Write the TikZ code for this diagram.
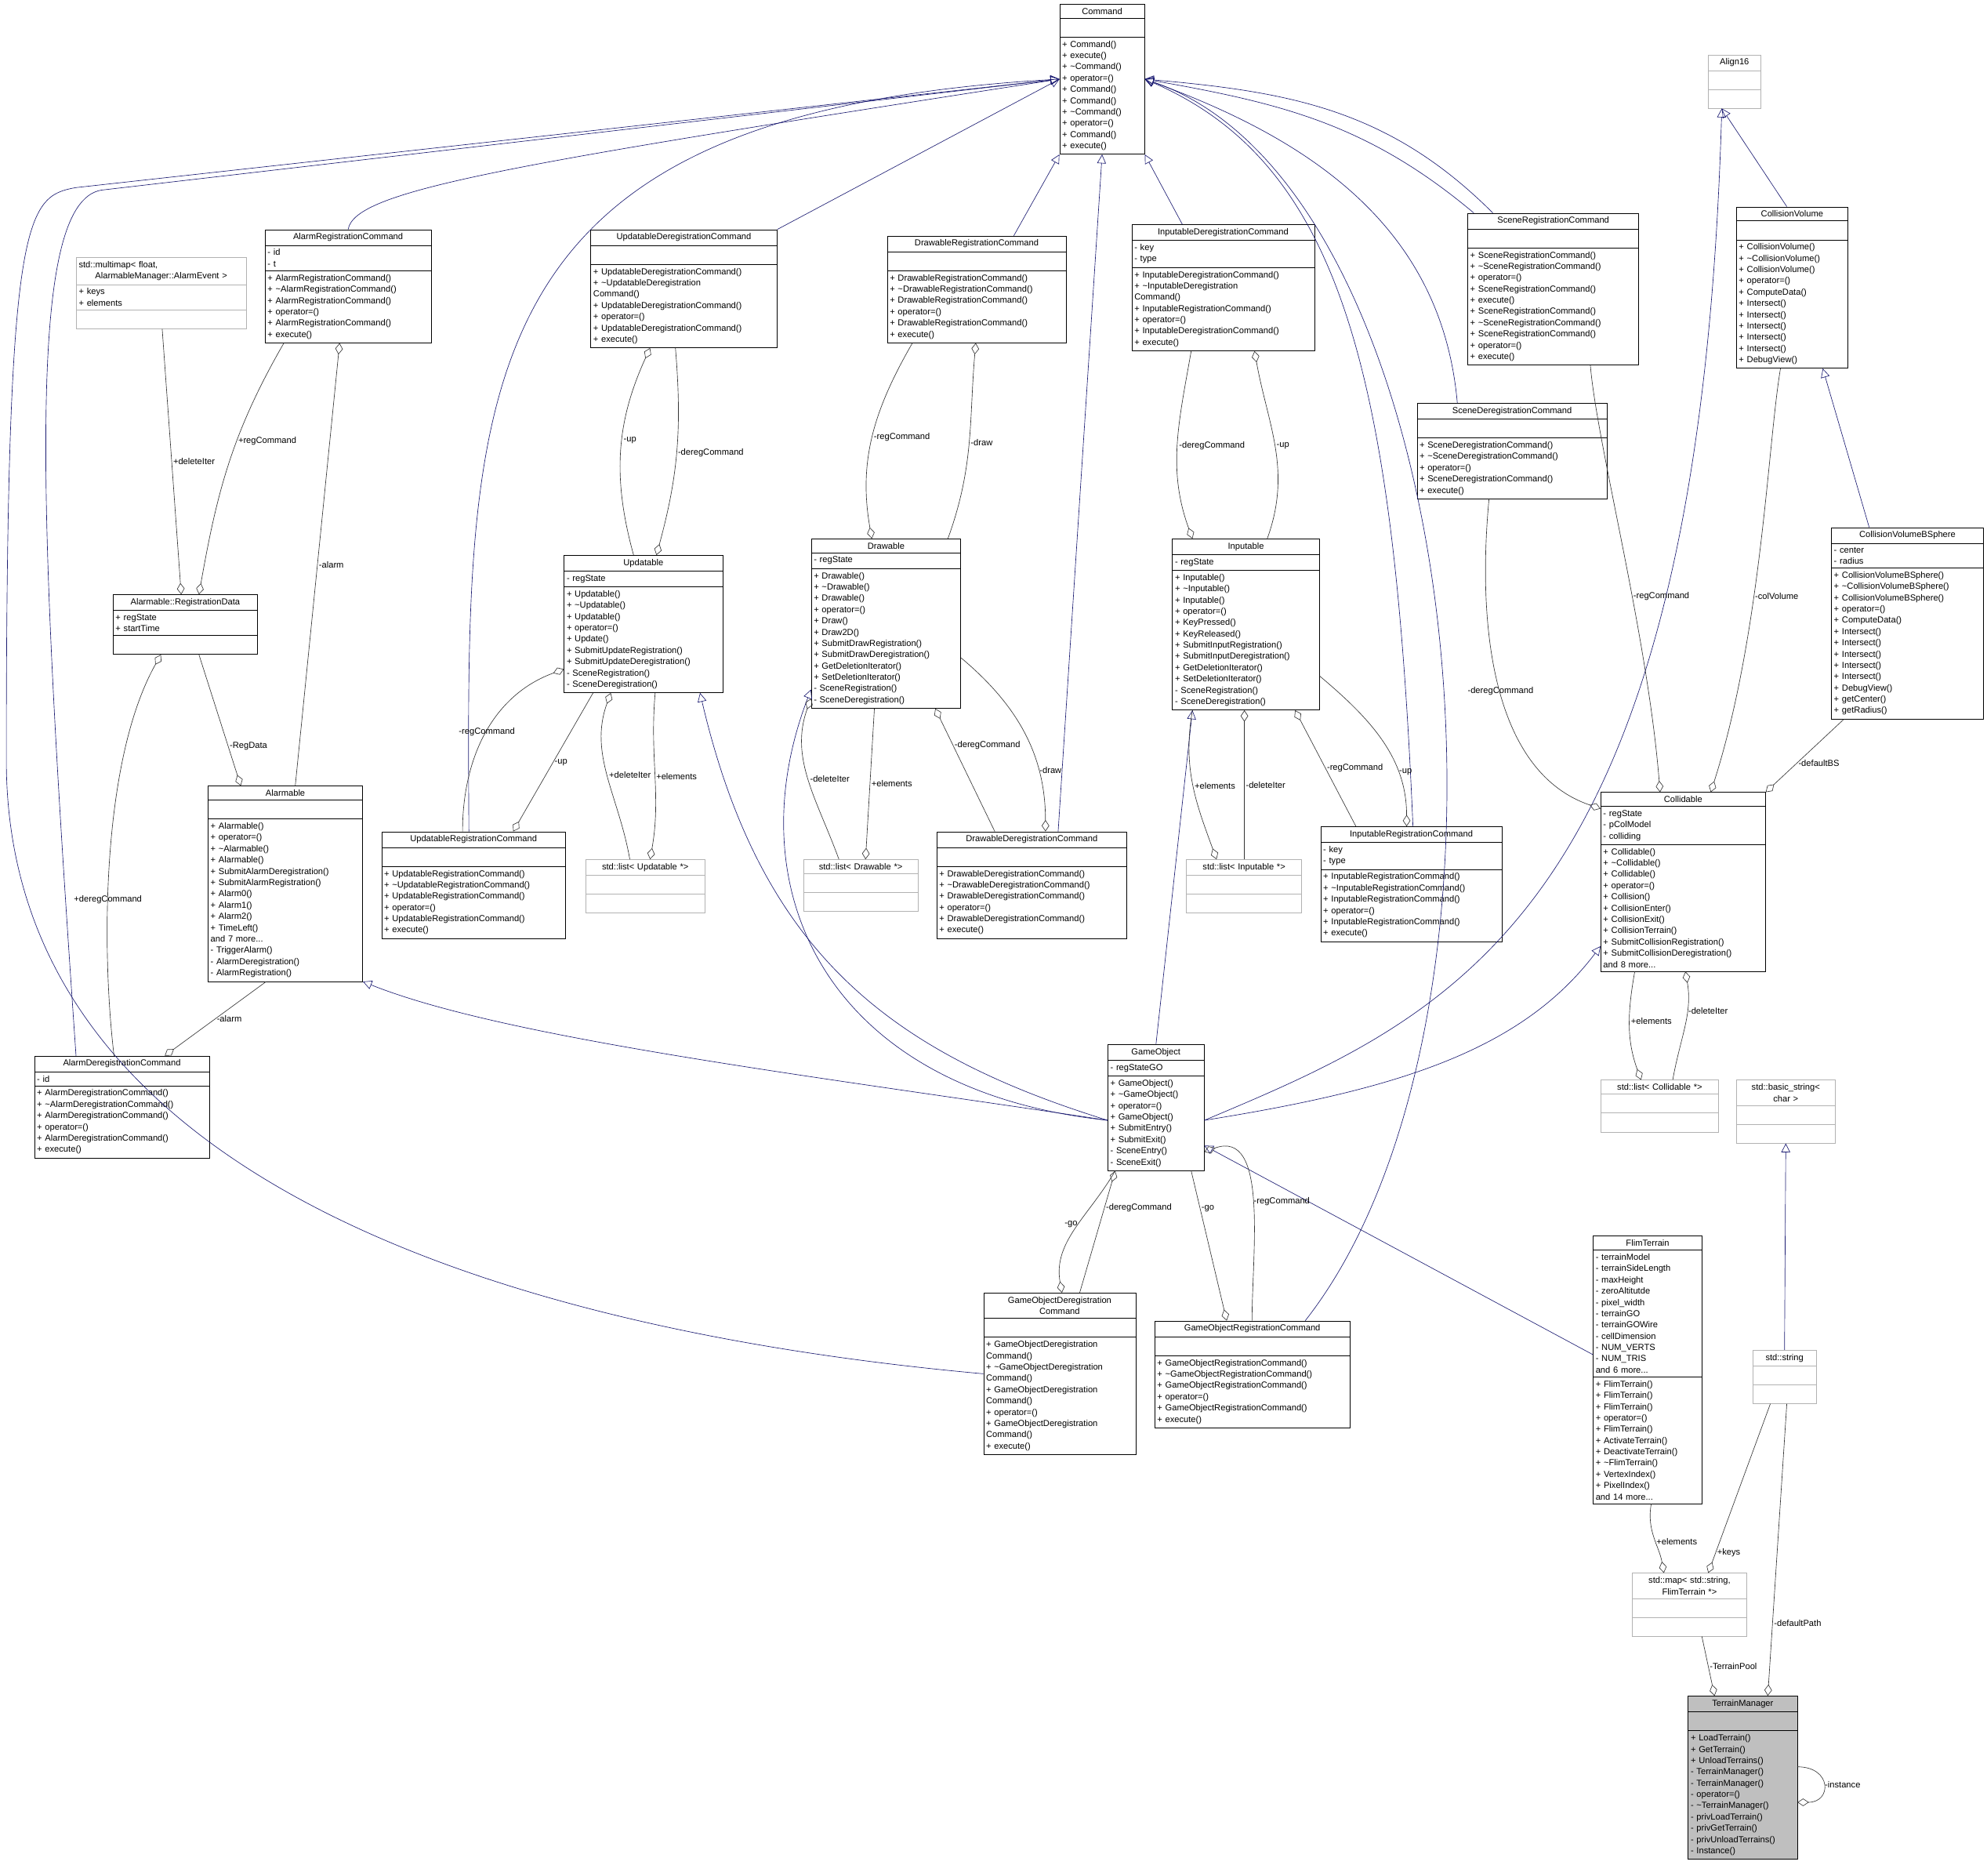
\documentclass[tikz,border=0pt]{standalone}
\usepackage{fontspec}
\setmainfont{Liberation Sans}
\usepackage{tikz}
\usetikzlibrary{arrows.meta,positioning,shapes.multipart}

\newcommand\cfont{\fontsize{6.9}{8.9}\selectfont}
\newcommand\ttl[1]{\hfil #1\hfil}
\definecolor{inhblue}{HTML}{191970}
\tikzset{
  cls/.style={rectangle split, rectangle split parts=3, draw, fill=white, anchor=north west, align=left, inner xsep=2pt, inner ysep=2.8pt, font=\cfont},
  ext/.style={cls, draw=black!30},
  inh/.style={draw=inhblue, -{Triangle[open,length=7pt,width=7pt]}},
  agg/.style={draw=black!80, {Diamond[open,length=9pt,width=6pt]}-},
  lbl/.style={font=\cfont, inner sep=1pt}
}

\begin{document}
\begin{tikzpicture}[x=1pt,y=-1pt]
\useasboundingbox (0,0) rectangle (1568,1480);

\node (cmd) [cls, text width=63pt] at (836,3) {\ttl{Command} \nodepart{two}\strut \nodepart{three}+ Command()\\+ execute()\\+ \textasciitilde Command()\\+ operator=()\\+ Command()\\+ Command()\\+ \textasciitilde Command()\\+ operator=()\\+ Command()\\+ execute()};
\node (aln) [ext, text width=37pt] at (1348,43) {\ttl{Align16} \nodepart{two}\strut \nodepart{three}\strut};
\node (cv) [cls, text width=84pt] at (1370,163) {\ttl{CollisionVolume} \nodepart{two}\strut \nodepart{three}+ CollisionVolume()\\+ \textasciitilde CollisionVolume()\\+ CollisionVolume()\\+ operator=()\\+ ComputeData()\\+ Intersect()\\+ Intersect()\\+ Intersect()\\+ Intersect()\\+ Intersect()\\+ DebugView()};
\node (cvbs) [cls, text width=116pt] at (1445,416) {\ttl{CollisionVolumeBSphere} \nodepart{two}- center\\- radius \nodepart{three}+ CollisionVolumeBSphere()\\+ \textasciitilde CollisionVolumeBSphere()\\+ CollisionVolumeBSphere()\\+ operator=()\\+ ComputeData()\\+ Intersect()\\+ Intersect()\\+ Intersect()\\+ Intersect()\\+ Intersect()\\+ DebugView()\\+ getCenter()\\+ getRadius()};
\node (src) [cls, text width=131pt] at (1158,168) {\ttl{SceneRegistrationCommand} \nodepart{two}\strut \nodepart{three}+ SceneRegistrationCommand()\\+ \textasciitilde SceneRegistrationCommand()\\+ operator=()\\+ SceneRegistrationCommand()\\+ execute()\\+ SceneRegistrationCommand()\\+ \textasciitilde SceneRegistrationCommand()\\+ SceneRegistrationCommand()\\+ operator=()\\+ execute()};
\node (sdc) [cls, text width=146pt] at (1118,318) {\ttl{SceneDeregistrationCommand} \nodepart{two}\strut \nodepart{three}+ SceneDeregistrationCommand()\\+ \textasciitilde SceneDeregistrationCommand()\\+ operator=()\\+ SceneDeregistrationCommand()\\+ execute()};
\node (idc) [cls, text width=140pt] at (893,177) {\ttl{InputableDeregistrationCommand} \nodepart{two}- key\\- type \nodepart{three}+ InputableDeregistrationCommand()\\+ \textasciitilde InputableDeregistration\\Command()\\+ InputableRegistrationCommand()\\+ operator=()\\+ InputableDeregistrationCommand()\\+ execute()};
\node (drc) [cls, text width=137pt] at (700,186) {\ttl{DrawableRegistrationCommand} \nodepart{two}\strut \nodepart{three}+ DrawableRegistrationCommand()\\+ \textasciitilde DrawableRegistrationCommand()\\+ DrawableRegistrationCommand()\\+ operator=()\\+ DrawableRegistrationCommand()\\+ execute()};
\node (udc) [cls, text width=143pt] at (466,181) {\ttl{UpdatableDeregistrationCommand} \nodepart{two}\strut \nodepart{three}+ UpdatableDeregistrationCommand()\\+ \textasciitilde UpdatableDeregistration\\Command()\\+ UpdatableDeregistrationCommand()\\+ operator=()\\+ UpdatableDeregistrationCommand()\\+ execute()};
\node (arc) [cls, text width=127pt] at (209,181) {\ttl{AlarmRegistrationCommand} \nodepart{two}- id\\- t \nodepart{three}+ AlarmRegistrationCommand()\\+ \textasciitilde AlarmRegistrationCommand()\\+ AlarmRegistrationCommand()\\+ operator=()\\+ AlarmRegistrationCommand()\\+ execute()};
\node (mm) [ext, text width=130pt] at (60,203) {std::multimap< float,\\ \ttl{AlarmableManager::AlarmEvent >} \nodepart{two}+ keys\\+ elements \nodepart{three}\strut};
\node (rd) [cls, text width=110pt] at (89,469) {\ttl{Alarmable::RegistrationData} \nodepart{two}+ regState\\+ startTime \nodepart{three}\strut};
\node (upd) [cls, text width=121pt] at (445,438) {\ttl{Updatable} \nodepart{two}- regState \nodepart{three}+ Updatable()\\+ \textasciitilde Updatable()\\+ Updatable()\\+ operator=()\\+ Update()\\+ SubmitUpdateRegistration()\\+ SubmitUpdateDeregistration()\\- SceneRegistration()\\- SceneDeregistration()};
\node (drw) [cls, text width=114pt] at (640,425) {\ttl{Drawable} \nodepart{two}- regState \nodepart{three}+ Drawable()\\+ \textasciitilde Drawable()\\+ Drawable()\\+ operator=()\\+ Draw()\\+ Draw2D()\\+ SubmitDrawRegistration()\\+ SubmitDrawDeregistration()\\+ GetDeletionIterator()\\+ SetDeletionIterator()\\- SceneRegistration()\\- SceneDeregistration()};
\node (inp) [cls, text width=112pt] at (925,425) {\ttl{Inputable} \nodepart{two}- regState \nodepart{three}+ Inputable()\\+ \textasciitilde Inputable()\\+ Inputable()\\+ operator=()\\+ KeyPressed()\\+ KeyReleased()\\+ SubmitInputRegistration()\\+ SubmitInputDeregistration()\\+ GetDeletionIterator()\\+ SetDeletionIterator()\\- SceneRegistration()\\- SceneDeregistration()};
\node (alm) [cls, text width=118pt] at (164,620) {\ttl{Alarmable} \nodepart{two}\strut \nodepart{three}+ Alarmable()\\+ operator=()\\+ \textasciitilde Alarmable()\\+ Alarmable()\\+ SubmitAlarmDeregistration()\\+ SubmitAlarmRegistration()\\+ Alarm0()\\+ Alarm1()\\+ Alarm2()\\+ TimeLeft()\\and 7 more...\\- TriggerAlarm()\\- AlarmDeregistration()\\- AlarmRegistration()};
\node (urc) [cls, text width=141pt] at (301,656) {\ttl{UpdatableRegistrationCommand} \nodepart{two}\strut \nodepart{three}+ UpdatableRegistrationCommand()\\+ \textasciitilde UpdatableRegistrationCommand()\\+ UpdatableRegistrationCommand()\\+ operator=()\\+ UpdatableRegistrationCommand()\\+ execute()};
\node (lupd) [ext, text width=90pt] at (462,678) {\ttl{std::list< Updatable *>} \nodepart{two}\strut \nodepart{three}\strut};
\node (ldrw) [ext, text width=86pt] at (634,678) {\ttl{std::list< Drawable *>} \nodepart{two}\strut \nodepart{three}\strut};
\node (ddc) [cls, text width=146pt] at (739,656) {\ttl{DrawableDeregistrationCommand} \nodepart{two}\strut \nodepart{three}+ DrawableDeregistrationCommand()\\+ \textasciitilde DrawableDeregistrationCommand()\\+ DrawableDeregistrationCommand()\\+ operator=()\\+ DrawableDeregistrationCommand()\\+ execute()};
\node (linp) [ext, text width=87pt] at (936,678) {\ttl{std::list< Inputable *>} \nodepart{two}\strut \nodepart{three}\strut};
\node (irc) [cls, text width=139pt] at (1042,652) {\ttl{InputableRegistrationCommand} \nodepart{two}- key\\- type \nodepart{three}+ InputableRegistrationCommand()\\+ \textasciitilde InputableRegistrationCommand()\\+ InputableRegistrationCommand()\\+ operator=()\\+ InputableRegistrationCommand()\\+ execute()};
\node (col) [cls, text width=126pt] at (1263,625) {\ttl{Collidable} \nodepart{two}- regState\\- pColModel\\- colliding \nodepart{three}+ Collidable()\\+ \textasciitilde Collidable()\\+ Collidable()\\+ operator=()\\+ Collision()\\+ CollisionEnter()\\+ CollisionExit()\\+ CollisionTerrain()\\+ SubmitCollisionRegistration()\\+ SubmitCollisionDeregistration()\\and 8 more...};
\node (adc) [cls, text width=134pt] at (27,833) {\ttl{AlarmDeregistrationCommand} \nodepart{two}- id \nodepart{three}+ AlarmDeregistrationCommand()\\+ \textasciitilde AlarmDeregistrationCommand()\\+ AlarmDeregistrationCommand()\\+ operator=()\\+ AlarmDeregistrationCommand()\\+ execute()};
\node (go) [cls, text width=72pt] at (874,824) {\ttl{GameObject} \nodepart{two}- regStateGO \nodepart{three}+ GameObject()\\+ \textasciitilde GameObject()\\+ operator=()\\+ GameObject()\\+ SubmitEntry()\\+ SubmitExit()\\- SceneEntry()\\- SceneExit()};
\node (lcol) [ext, text width=89pt] at (1263,852) {\ttl{std::list< Collidable *>} \nodepart{two}\strut \nodepart{three}\strut};
\node (bstr) [ext, text width=74pt] at (1370,852) {\ttl{std::basic\_string<}\\ \ttl{char >} \nodepart{two}\strut \nodepart{three}\strut};
\node (godc) [cls, text width=116pt] at (776,1020) {\ttl{GameObjectDeregistration}\\ \ttl{Command} \nodepart{two}\strut \nodepart{three}+ GameObjectDeregistration\\Command()\\+ \textasciitilde GameObjectDeregistration\\Command()\\+ GameObjectDeregistration\\Command()\\+ operator=()\\+ GameObjectDeregistration\\Command()\\+ execute()};
\node (gorc) [cls, text width=150pt] at (911,1042) {\ttl{GameObjectRegistrationCommand} \nodepart{two}\strut \nodepart{three}+ GameObjectRegistrationCommand()\\+ \textasciitilde GameObjectRegistrationCommand()\\+ GameObjectRegistrationCommand()\\+ operator=()\\+ GameObjectRegistrationCommand()\\+ execute()};
\node (flim) [cls, text width=82pt] at (1257,975) {\ttl{FlimTerrain} \nodepart{two}- terrainModel\\- terrainSideLength\\- maxHeight\\- zeroAltitutde\\- pixel\_width\\- terrainGO\\- terrainGOWire\\- cellDimension\\- NUM\_VERTS\\- NUM\_TRIS\\and 6 more... \nodepart{three}+ FlimTerrain()\\+ FlimTerrain()\\+ FlimTerrain()\\+ operator=()\\+ FlimTerrain()\\+ ActivateTerrain()\\+ DeactivateTerrain()\\+ \textasciitilde FlimTerrain()\\+ VertexIndex()\\+ PixelIndex()\\and 14 more...};
\node (str) [ext, text width=46pt] at (1383,1065) {\ttl{std::string} \nodepart{two}\strut \nodepart{three}\strut};
\node (map) [ext, text width=86pt] at (1288,1241) {\ttl{std::map< std::string,}\\ \ttl{FlimTerrain *>} \nodepart{two}\strut \nodepart{three}\strut};
\node (tm) [cls, fill=black!25, text width=82pt] at (1332,1338) {\ttl{TerrainManager} \nodepart{two}\strut \nodepart{three}+ LoadTerrain()\\+ GetTerrain()\\+ UnloadTerrains()\\- TerrainManager()\\- TerrainManager()\\- operator=()\\- \textasciitilde TerrainManager()\\- privLoadTerrain()\\- privGetTerrain()\\- privUnloadTerrains()\\- Instance()};

% inheritance
\draw [inh] (arc.north) .. controls (280,150) and (400,130) .. (cmd.west);
\draw [inh] (udc.north east) -- (cmd.west);
\draw [inh] ([xshift=100]drc.north west) -- (cmd.south west);
\draw [inh] ([xshift=40]idc.north west) -- (cmd.south east);
\draw [inh] ([xshift=20]src.north west) to[out=135,in=-5] (cmd.east);
\draw [inh] ([xshift=5]src.north west) to[out=140,in=-10] (cmd.east);
\draw [inh] ([xshift=32]sdc.north west) to[out=95,in=-20] (cmd.east);
\draw [inh] ([xshift=69]urc.north west) .. controls (368,300) and (365,90) .. (cmd.west);
\draw [inh] ([xshift=96]ddc.north west) -- (cmd.south);
\draw [inh] ([xshift=73]irc.north west) .. controls (1100,300) and (1060,130) .. (cmd.east);
\draw [inh] ([xshift=119]gorc.north west) .. controls (1220,800) and (1160,150) .. (cmd.east);
\draw [inh] ([xshift=33]adc.north west) .. controls (30,400) and (20,160) .. (80,150) -- (cmd.west);
\draw [inh] (godc.west) .. controls (400,1050) and (5,930) .. (5,600) .. controls (5,170) and (20,155) .. (60,148) -- (cmd.west);
\draw [inh] ([xshift=40]cv.north west) -- ([xshift=-10]aln.south);
\draw [inh] ([yshift=-10]go.east) .. controls (1150,800) and (1340,720) .. ([xshift=-10]aln.south);
\draw [inh] ([xshift=30]cvbs.north west) -- ([xshift=-20]cv.south east);
\draw [inh] ([yshift=-10]go.west) .. controls (700,830) and (600,750) .. ([xshift=-18]upd.south east);
\draw [inh] ([yshift=-10]go.west) .. controls (650,860) and (580,700) .. ([yshift=15]drw.south west);
\draw [inh] (go.north) -- ([xshift=16]inp.south west);
\draw [inh] ([yshift=-10]go.west) .. controls (650,850) and (400,820) .. (alm.south east);
\draw [inh] ([yshift=-10]go.east) .. controls (1100,860) and (1200,830) .. ([yshift=20]col.south west);
\draw [inh] ([yshift=12]flim.west) -- ([yshift=-30]go.east);
\draw [inh] (str.north) -- (bstr.south);

% aggregation
\draw [agg] ([xshift=54]rd.north west) -- node[lbl, right] {+deleteIter} ([xshift=68]mm.south west);
\draw [agg] ([xshift=68]rd.north west) to[out=80,in=-120] node[lbl, right, pos=0.6] {+regCommand} ([xshift=15]arc.south west);
\draw [agg] ([xshift=26]alm.north west) -- node[lbl, right, pos=0.3] {-RegData} ([xshift=68]rd.south west);
\draw [agg] ([xshift=59]arc.south west) -- node[lbl, right] {-alarm} ([xshift=69]alm.north west);
\draw [agg] ([xshift=38]rd.south west) .. controls (80,600) and (80,750) .. node[lbl, pos=0.6] {+deregCommand} ([xshift=63]adc.north west);
\draw [agg] ([xshift=103]adc.north west) -- node[lbl, right] {-alarm} ([xshift=46]alm.south west);

\draw [agg] ([xshift=47]udc.south west) to[bend right=20] node[lbl, right, pos=0.45] {-up} ([xshift=55]upd.north west);
\draw [agg] ([xshift=73]upd.north west) to[bend right=10] node[lbl, right, pos=0.5] {-deregCommand} ([xshift=67]udc.south west);
\draw [agg] ([yshift=-90]upd.north west) to[out=200,in=90] node[lbl, pos=0.5] {-regCommand} ([xshift=64]urc.north west);
\draw [agg] ([xshift=104]urc.north west) -- node[lbl, right, pos=0.5] {-up} ([xshift=23]upd.south west);
\draw [agg] ([xshift=37]upd.south west) to[out=250,in=100] node[lbl, right, pos=0.5] {+deleteIter} ([xshift=35]lupd.north west);
\draw [agg] ([xshift=51]lupd.north west) to[out=80,in=-95] node[lbl, right, pos=0.5] {+elements} ([xshift=72]upd.south west);

\draw [agg] ([xshift=48]drw.north west) to[out=100,in=-120] node[lbl, right, pos=0.5] {-regCommand} ([xshift=20]drc.south west);
\draw [agg] ([xshift=70]drc.south west) to[out=-95,in=70] node[lbl, right, pos=0.5] {-draw} ([xshift=108]drw.north west);
\draw [agg] ([yshift=8]drw.south west) to[out=250,in=110] node[lbl, right, pos=0.5] {-deleteIter} ([xshift=28]ldrw.north west);
\draw [agg] ([xshift=49]ldrw.north west) -- node[lbl, right, pos=0.5] {+elements} ([xshift=50]drw.south west);
\draw [agg] ([xshift=98]drw.south west) -- node[lbl, right, pos=0.3] {-deregCommand} ([xshift=46]ddc.north west);
\draw [agg] ([xshift=86]ddc.north west) to[out=90,in=-40] node[lbl, right, pos=0.3] {-draw} ([yshift=40]drw.south east);

\draw [agg] ([xshift=16]inp.north west) to[out=110,in=-100] node[lbl, right, pos=0.5] {-deregCommand} ([xshift=47]idc.south west);
\draw [agg] ([xshift=97]idc.south west) to[out=-80,in=70] node[lbl, right, pos=0.5] {-up} ([xshift=75]inp.north west);
\draw [agg] ([xshift=24]linp.north west) to[out=110,in=-100] node[lbl, right, pos=0.5] {+elements} ([xshift=16]inp.south west);
\draw [agg] ([xshift=57]inp.south west) -- node[lbl, right, pos=0.5] {-deleteIter} ([xshift=46]linp.north west);
\draw [agg] ([xshift=97]inp.south west) -- node[lbl, right, pos=0.5] {-regCommand} ([xshift=28]irc.north west);
\draw [agg] ([xshift=68]irc.north west) to[out=90,in=-40] node[lbl, right, pos=0.3] {-up} ([yshift=27]inp.south east);

\draw [agg] ([yshift=-13]col.north west) .. controls (1180,610) and (1165,500) .. node[lbl, pos=0.5] {-deregCommand} ([xshift=57]sdc.south west);
\draw [agg] ([xshift=47]col.north west) .. controls (1300,500) and (1260,350) .. node[lbl, right, pos=0.4] {-regCommand} ([xshift=97]src.south west);
\draw [agg] ([xshift=87]col.north west) .. controls (1390,500) and (1395,350) .. node[lbl, right, pos=0.4] {-colVolume} ([xshift=35]cv.south west);
\draw [agg] (col.north east) -- node[lbl, right, pos=0.4] {-defaultBS} ([xshift=10]cvbs.south west);
\draw [agg] ([xshift=32]lcol.north west) to[out=110,in=-100] node[lbl, right, pos=0.55] {+elements} ([xshift=27]col.south west);
\draw [agg] ([xshift=67]col.south west) to[out=-80,in=80] node[lbl, right, pos=0.35] {-deleteIter} ([xshift=57]lcol.north west);

\draw [agg] ([xshift=62]godc.north west) to[out=100,in=-120] node[lbl, left, pos=0.55] {-go} ([xshift=6]go.south west);
\draw [agg] ([xshift=6]go.south west) -- node[lbl, right, pos=0.3] {-deregCommand} ([xshift=76]godc.north west);
\draw [agg] ([xshift=57]gorc.north west) -- node[lbl, right, pos=0.75] {-go} ([xshift=66]go.south west);
\draw [agg] ([yshift=15]go.south east) to[out=20,in=90] node[lbl, right, pos=0.5] {-regCommand} ([xshift=77]gorc.north west);

\draw [agg] ([xshift=25]map.north west) to[out=100,in=-100] node[lbl, right, pos=0.45] {+elements} ([xshift=46]flim.south west);
\draw [agg] ([xshift=60]map.north west) -- node[lbl, right, pos=0.12] {+keys} ([xshift=14]str.south west);
\draw [agg] ([xshift=21]tm.north west) -- node[lbl, right, pos=0.5] {-TerrainPool} ([xshift=55]map.south west);
\draw [agg] ([xshift=63]tm.north west) -- node[lbl, right, pos=0.25] {-defaultPath} ([xshift=27]str.south west);
\draw [agg] ([yshift=-84]tm.north east) to[out=0,in=0,looseness=2.5] node[lbl, right] {-instance} ([yshift=-56]tm.north east);
\end{tikzpicture}
\end{document}
